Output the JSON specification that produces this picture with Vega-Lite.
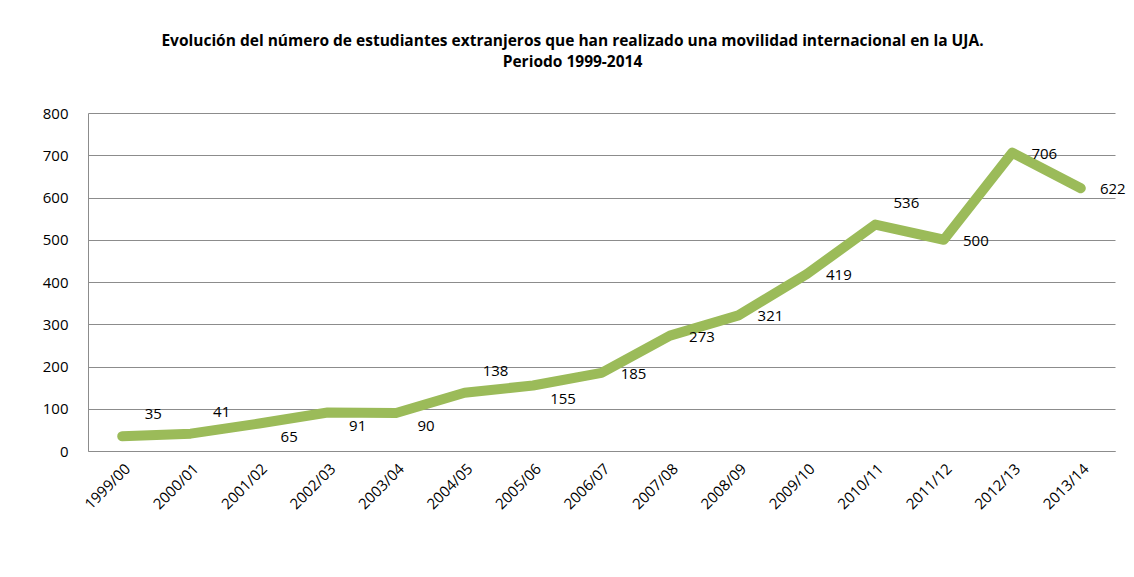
{
  "$schema": "https://vega.github.io/schema/vega-lite/v6.json",
  "width": 1027,
  "height": 338,
  "autosize": {"type": "none"},
  "padding": {"left": 88, "top": 113, "right": 19, "bottom": 126},
  "background": "white",
  "title": {
    "text": ["Evolución del número de estudiantes extranjeros que han realizado una movilidad internacional  en la UJA.", "Periodo  1999-2014"],
    "font": "Open Sans",
    "fontSize": 15.5,
    "fontWeight": "bold",
    "color": "#000000",
    "anchor": "middle",
    "dx": -29,
    "offset": 36,
    "lineHeight": 21
  },
  "data": {
    "values": [
      {"curso": "1999/00", "estudiantes": 35},
      {"curso": "2000/01", "estudiantes": 41},
      {"curso": "2001/02", "estudiantes": 65},
      {"curso": "2002/03", "estudiantes": 91},
      {"curso": "2003/04", "estudiantes": 90},
      {"curso": "2004/05", "estudiantes": 138},
      {"curso": "2005/06", "estudiantes": 155},
      {"curso": "2006/07", "estudiantes": 185},
      {"curso": "2007/08", "estudiantes": 273},
      {"curso": "2008/09", "estudiantes": 321},
      {"curso": "2009/10", "estudiantes": 419},
      {"curso": "2010/11", "estudiantes": 536},
      {"curso": "2011/12", "estudiantes": 500},
      {"curso": "2012/13", "estudiantes": 706},
      {"curso": "2013/14", "estudiantes": 622}
    ]
  },
  "encoding": {
    "x": {
      "field": "curso",
      "type": "ordinal",
      "sort": null,
      "scale": {"type": "point", "padding": 0.5},
      "axis": {
        "title": null,
        "labelAngle": -45,
        "labelFont": "Open Sans",
        "labelFontSize": 15,
        "labelColor": "#000000",
        "ticks": false,
        "labelPadding": 10,
        "domainColor": "#8c8c8c",
        "grid": false
      }
    },
    "y": {
      "field": "estudiantes",
      "type": "quantitative",
      "scale": {"domain": [0, 800]},
      "axis": {
        "title": null,
        "values": [0, 100, 200, 300, 400, 500, 600, 700, 800],
        "labelFont": "Open Sans",
        "labelFontSize": 15,
        "labelColor": "#000000",
        "ticks": false,
        "labelPadding": 20,
        "domainColor": "#8c8c8c",
        "gridColor": "#8c8c8c",
        "gridOpacity": 1
      }
    }
  },
  "layer": [
    {
      "mark": {"type": "line", "color": "#9BBB59", "strokeWidth": 10, "strokeCap": "round", "strokeJoin": "round"}
    },
    {
      "transform": [{"filter": {"field": "curso", "oneOf": ["1999/00", "2000/01", "2004/05", "2010/11"]}}],
      "mark": {"type": "text", "font": "Open Sans", "fontSize": 15, "color": "#000000", "dx": 31, "dy": -22},
      "encoding": {"text": {"field": "estudiantes", "type": "quantitative"}}
    },
    {
      "transform": [{"filter": {"field": "curso", "oneOf": ["2001/02", "2002/03", "2003/04", "2005/06"]}}],
      "mark": {"type": "text", "font": "Open Sans", "fontSize": 15, "color": "#000000", "dx": 30, "dy": 13},
      "encoding": {"text": {"field": "estudiantes", "type": "quantitative"}}
    },
    {
      "transform": [{"filter": {"not": {"field": "curso", "oneOf": ["1999/00", "2000/01", "2004/05", "2010/11", "2001/02", "2002/03", "2003/04", "2005/06"]}}}],
      "mark": {"type": "text", "font": "Open Sans", "fontSize": 15, "color": "#000000", "dx": 32, "dy": 1},
      "encoding": {"text": {"field": "estudiantes", "type": "quantitative"}}
    }
  ],
  "config": {"view": {"stroke": null}}
}
